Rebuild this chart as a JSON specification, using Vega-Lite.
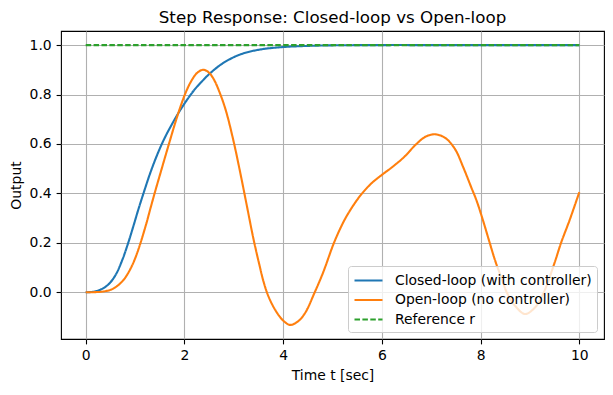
{
  "$schema": "https://vega.github.io/schema/vega-lite/v6.json",
  "width": 543,
  "height": 308,
  "autosize": {"type": "none"},
  "padding": {"left": 61, "top": 31, "right": 9, "bottom": 56},
  "background": "white",
  "title": {"text": "Step Response: Closed-loop vs Open-loop", "fontSize": 16.7, "font": "DejaVu Sans", "fontWeight": "normal", "baseline": "bottom", "offset": 8, "dy": 21, "color": "black"},
  "config": {
    "font": "DejaVu Sans",
    "view": {"stroke": "black", "strokeWidth": 1.1},
    "axis": {"domain": false, "grid": true, "gridColor": "#b0b0b0", "gridWidth": 1.1, "tickColor": "black", "tickSize": 4.9, "tickWidth": 1.1, "labelFontSize": 13.9, "labelColor": "black", "labelPadding": 4.9, "titleFontSize": 13.9, "titleFontWeight": "normal", "titleColor": "black", "labelFont": "DejaVu Sans", "titleFont": "DejaVu Sans"},
    "legend": {"orient": "bottom-right", "offset": 7, "fillColor": "rgba(255,255,255,0.8)", "strokeColor": "#cccccc", "cornerRadius": 3, "padding": 5, "labelFontSize": 13.9, "labelFont": "DejaVu Sans", "labelColor": "black", "labelLimit": 400, "symbolType": "M-1,0H2.5", "symbolSize": 256, "symbolStrokeWidth": 2.1, "symbolFillColor": "transparent", "rowPadding": 2.5, "labelOffset": 23}
  },
  "data": {"values": [
    {"series": "Closed-loop (with controller)", "t": 0, "y": 0},
    {"series": "Closed-loop (with controller)", "t": 0.15, "y": 0.002},
    {"series": "Closed-loop (with controller)", "t": 0.28, "y": 0.009},
    {"series": "Closed-loop (with controller)", "t": 0.4, "y": 0.022},
    {"series": "Closed-loop (with controller)", "t": 0.5, "y": 0.04},
    {"series": "Closed-loop (with controller)", "t": 0.62, "y": 0.075},
    {"series": "Closed-loop (with controller)", "t": 0.75, "y": 0.135},
    {"series": "Closed-loop (with controller)", "t": 0.87, "y": 0.205},
    {"series": "Closed-loop (with controller)", "t": 0.97, "y": 0.27},
    {"series": "Closed-loop (with controller)", "t": 1.07, "y": 0.337},
    {"series": "Closed-loop (with controller)", "t": 1.19, "y": 0.412},
    {"series": "Closed-loop (with controller)", "t": 1.3, "y": 0.478},
    {"series": "Closed-loop (with controller)", "t": 1.44, "y": 0.552},
    {"series": "Closed-loop (with controller)", "t": 1.59, "y": 0.62},
    {"series": "Closed-loop (with controller)", "t": 1.77, "y": 0.688},
    {"series": "Closed-loop (with controller)", "t": 1.96, "y": 0.751},
    {"series": "Closed-loop (with controller)", "t": 2.19, "y": 0.816},
    {"series": "Closed-loop (with controller)", "t": 2.35, "y": 0.852},
    {"series": "Closed-loop (with controller)", "t": 2.52, "y": 0.886},
    {"series": "Closed-loop (with controller)", "t": 2.79, "y": 0.928},
    {"series": "Closed-loop (with controller)", "t": 3.13, "y": 0.962},
    {"series": "Closed-loop (with controller)", "t": 3.53, "y": 0.982},
    {"series": "Closed-loop (with controller)", "t": 4.0, "y": 0.992},
    {"series": "Closed-loop (with controller)", "t": 4.54, "y": 0.997},
    {"series": "Closed-loop (with controller)", "t": 5.0, "y": 0.999},
    {"series": "Closed-loop (with controller)", "t": 6.0, "y": 1.0},
    {"series": "Closed-loop (with controller)", "t": 7.0, "y": 1.0},
    {"series": "Closed-loop (with controller)", "t": 8.0, "y": 1.0},
    {"series": "Closed-loop (with controller)", "t": 9.0, "y": 1.0},
    {"series": "Closed-loop (with controller)", "t": 10.0, "y": 1.0},
    {"series": "Open-loop (no controller)", "t": 0, "y": 0},
    {"series": "Open-loop (no controller)", "t": 0.35, "y": 0.003},
    {"series": "Open-loop (no controller)", "t": 0.55, "y": 0.014},
    {"series": "Open-loop (no controller)", "t": 0.75, "y": 0.046},
    {"series": "Open-loop (no controller)", "t": 0.92, "y": 0.1},
    {"series": "Open-loop (no controller)", "t": 1.05, "y": 0.163},
    {"series": "Open-loop (no controller)", "t": 1.22, "y": 0.272},
    {"series": "Open-loop (no controller)", "t": 1.31, "y": 0.338},
    {"series": "Open-loop (no controller)", "t": 1.41, "y": 0.41},
    {"series": "Open-loop (no controller)", "t": 1.51, "y": 0.479},
    {"series": "Open-loop (no controller)", "t": 1.61, "y": 0.548},
    {"series": "Open-loop (no controller)", "t": 1.71, "y": 0.616},
    {"series": "Open-loop (no controller)", "t": 1.81, "y": 0.683},
    {"series": "Open-loop (no controller)", "t": 1.91, "y": 0.745},
    {"series": "Open-loop (no controller)", "t": 2.02, "y": 0.805},
    {"series": "Open-loop (no controller)", "t": 2.14, "y": 0.855},
    {"series": "Open-loop (no controller)", "t": 2.26, "y": 0.888},
    {"series": "Open-loop (no controller)", "t": 2.38, "y": 0.9},
    {"series": "Open-loop (no controller)", "t": 2.49, "y": 0.89},
    {"series": "Open-loop (no controller)", "t": 2.6, "y": 0.86},
    {"series": "Open-loop (no controller)", "t": 2.72, "y": 0.805},
    {"series": "Open-loop (no controller)", "t": 2.84, "y": 0.735},
    {"series": "Open-loop (no controller)", "t": 2.99, "y": 0.616},
    {"series": "Open-loop (no controller)", "t": 3.13, "y": 0.485},
    {"series": "Open-loop (no controller)", "t": 3.26, "y": 0.355},
    {"series": "Open-loop (no controller)", "t": 3.4, "y": 0.215},
    {"series": "Open-loop (no controller)", "t": 3.52, "y": 0.11},
    {"series": "Open-loop (no controller)", "t": 3.6, "y": 0.045},
    {"series": "Open-loop (no controller)", "t": 3.68, "y": -0.005},
    {"series": "Open-loop (no controller)", "t": 3.78, "y": -0.05},
    {"series": "Open-loop (no controller)", "t": 3.9, "y": -0.09},
    {"series": "Open-loop (no controller)", "t": 4.02, "y": -0.118},
    {"series": "Open-loop (no controller)", "t": 4.14, "y": -0.132},
    {"series": "Open-loop (no controller)", "t": 4.3, "y": -0.118},
    {"series": "Open-loop (no controller)", "t": 4.45, "y": -0.082},
    {"series": "Open-loop (no controller)", "t": 4.64, "y": 0.0},
    {"series": "Open-loop (no controller)", "t": 4.81, "y": 0.08},
    {"series": "Open-loop (no controller)", "t": 5.04, "y": 0.205},
    {"series": "Open-loop (no controller)", "t": 5.25, "y": 0.295},
    {"series": "Open-loop (no controller)", "t": 5.45, "y": 0.36},
    {"series": "Open-loop (no controller)", "t": 5.6, "y": 0.4},
    {"series": "Open-loop (no controller)", "t": 5.79, "y": 0.441},
    {"series": "Open-loop (no controller)", "t": 6.0, "y": 0.475},
    {"series": "Open-loop (no controller)", "t": 6.22, "y": 0.508},
    {"series": "Open-loop (no controller)", "t": 6.46, "y": 0.549},
    {"series": "Open-loop (no controller)", "t": 6.69, "y": 0.598},
    {"series": "Open-loop (no controller)", "t": 6.89, "y": 0.63},
    {"series": "Open-loop (no controller)", "t": 7.08, "y": 0.639},
    {"series": "Open-loop (no controller)", "t": 7.28, "y": 0.625},
    {"series": "Open-loop (no controller)", "t": 7.48, "y": 0.58},
    {"series": "Open-loop (no controller)", "t": 7.65, "y": 0.505},
    {"series": "Open-loop (no controller)", "t": 7.8, "y": 0.43},
    {"series": "Open-loop (no controller)", "t": 7.92, "y": 0.37},
    {"series": "Open-loop (no controller)", "t": 8.05, "y": 0.29},
    {"series": "Open-loop (no controller)", "t": 8.17, "y": 0.21},
    {"series": "Open-loop (no controller)", "t": 8.3, "y": 0.125},
    {"series": "Open-loop (no controller)", "t": 8.42, "y": 0.06},
    {"series": "Open-loop (no controller)", "t": 8.53, "y": 0.0},
    {"series": "Open-loop (no controller)", "t": 8.7, "y": -0.055},
    {"series": "Open-loop (no controller)", "t": 8.9, "y": -0.088},
    {"series": "Open-loop (no controller)", "t": 9.1, "y": -0.062},
    {"series": "Open-loop (no controller)", "t": 9.28, "y": 0.0},
    {"series": "Open-loop (no controller)", "t": 9.5, "y": 0.12},
    {"series": "Open-loop (no controller)", "t": 9.63, "y": 0.2},
    {"series": "Open-loop (no controller)", "t": 9.8, "y": 0.29},
    {"series": "Open-loop (no controller)", "t": 10.0, "y": 0.405},
    {"series": "Reference r", "t": 0, "y": 1.0},
    {"series": "Reference r", "t": 10, "y": 1.0}
  ]},
  "mark": {"type": "line", "strokeWidth": 2.1, "interpolate": "catmull-rom", "clip": true},
  "encoding": {
    "x": {"field": "t", "type": "quantitative", "scale": {"domain": [-0.5, 10.5], "nice": false, "zero": false}, "axis": {"values": [0, 2, 4, 6, 8, 10], "format": "d", "title": "Time t [sec]", "titlePadding": 6}},
    "y": {"field": "y", "type": "quantitative", "scale": {"domain": [-0.189, 1.057], "nice": false, "zero": false}, "axis": {"values": [0, 0.2, 0.4, 0.6, 0.8, 1.0], "format": ".1f", "title": "Output", "titlePadding": 6}},
    "color": {"field": "series", "type": "nominal", "scale": {"domain": ["Closed-loop (with controller)", "Open-loop (no controller)", "Reference r"], "range": ["#1f77b4", "#ff7f0e", "#2ca02c"]}, "legend": {"title": null}},
    "strokeDash": {"field": "series", "type": "nominal", "scale": {"domain": ["Closed-loop (with controller)", "Open-loop (no controller)", "Reference r"], "range": [[1, 0], [1, 0], [5.5, 2.4]]}, "legend": {"title": null}}
  }
}
